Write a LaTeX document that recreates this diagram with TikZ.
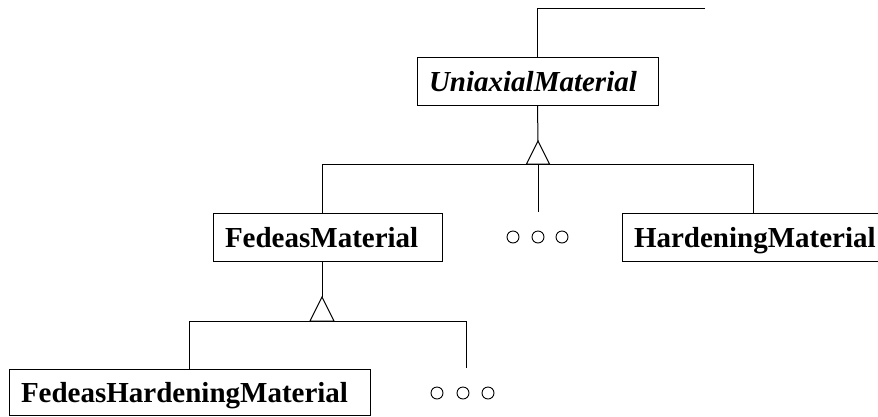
\documentclass[tikz,border=0pt]{standalone}
\usepackage{fontspec}
\setmainfont{Liberation Serif}
\usepackage{tikz}
\usetikzlibrary{arrows.meta, positioning, calc}

\begin{document}
\begin{tikzpicture}[
    x=1pt, y=-1pt,
    font=\fontsize{29}{35}\selectfont\bfseries,
    cls/.style={
      draw=black, line width=1pt,
      inner xsep=12pt, inner ysep=0pt,
      minimum height=48pt, align=left,
      text height=20pt, text depth=-4pt,
    },
    abstractcls/.style={
      cls, font=\fontsize{29}{35}\selectfont\bfseries\itshape,
    },
    moredot/.style={
      circle, draw=black, line width=0.9pt,
      minimum size=12pt, inner sep=0pt,
    },
    glink/.style={
      draw=black, line width=1pt, line join=miter,
    },
  ]
    \useasboundingbox (0,0) rectangle (878,416);

    \node[abstractcls, text width=217pt] (uni) at (537.5,81)
      {UniaxialMaterial};

    \node[cls, text width=205pt] (fedeas) at (327.5,237)
      {FedeasMaterial};
    \node[cls, text width=234pt] (hard) at (751,237)
      {HardeningMaterial};

    \node[moredot] (d1a) at (513,237) {};
    \node[moredot] (d1b) at (538,237) {};
    \node[moredot] (d1c) at (562,237) {};

    \node[cls, text width=337pt, minimum height=46pt] (fhard) at (189.5,392)
      {FedeasHardeningMaterial};

    \node[moredot] (d2a) at (437,393) {};
    \node[moredot] (d2b) at (463,393) {};
    \node[moredot] (d2c) at (488,393) {};

    % link to the parent class, off the picture
    \coordinate (up) at (705,8);
    \draw[glink] (up) -| (uni.north);

    % first level of subclasses
    \coordinate (tip1) at (538,141);
    \coordinate (bar1r) at (753,164);
    \coordinate (more1) at (538,212);
    \coordinate (tip2) at (322,297);
    \draw[glink] (uni.south) -- (tip1);
    \draw[glink] (tip1) -- ++(-11.5,23) -- ++(23,0) -- cycle;
    \draw[glink] (fedeas.north -| tip2) |- (bar1r) -- (bar1r |- hard.north);
    \draw[glink] (tip1) ++(0,23) -- (more1);

    % second level
    \coordinate (bar2r) at (466,321);
    \coordinate (more2) at (466,368);
    \draw[glink] (fedeas.south -| tip2) -- (tip2);
    \draw[glink] (tip2) -- ++(-12,24) -- ++(24,0) -- cycle;
    \draw[glink] (fhard.north) |- (bar2r) -- (more2);
\end{tikzpicture}
\end{document}
